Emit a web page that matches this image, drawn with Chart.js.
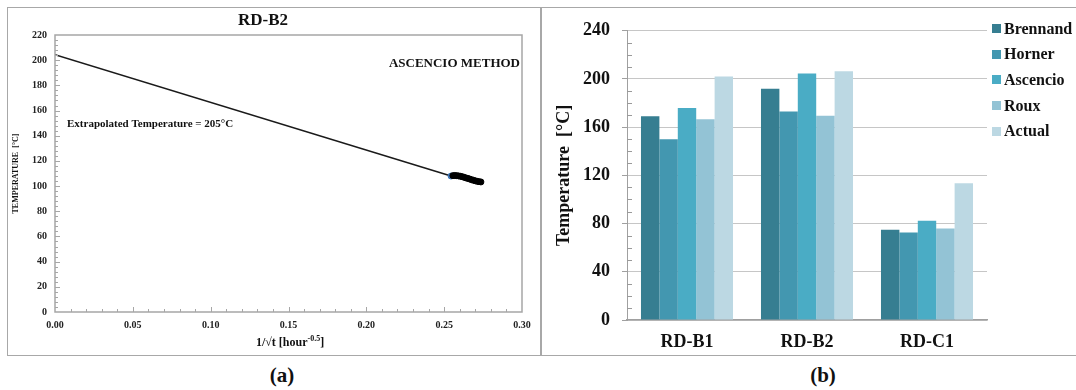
<!DOCTYPE html>
<html>
<head>
<meta charset="utf-8">
<script src="https://cdn.jsdelivr.net/npm/chart.js@4.4.1/dist/chart.umd.min.js"></script>
<style>
  html, body { margin: 0; padding: 0; background: #fff; }
  body { width: 1076px; height: 390px; position: relative; overflow: hidden; font-family: 'Liberation Serif', 'Times New Roman', serif; }
  .panel { position: absolute; box-sizing: border-box; border: 1.5px solid #a8a8a8; }
  #panelA { left: 7px; top: 7px; width: 535px; height: 349px; }
  #panelB { left: 540px; top: 7px; width: 545px; height: 349px; }
  #boxA { position: absolute; left: 8px; top: 8px; width: 531px; height: 347px; }
  #boxB { position: absolute; left: 541px; top: 8px; width: 535px; height: 347px; }
  .caption { position: absolute; top: 363px; width: 60px; text-align: center; font-weight: bold; font-size: 21px; color: #111; }
  #legendB { position: absolute; left: 992px; top: 16px; }
  .item { display: flex; align-items: center; height: 25.6px; font-weight: bold; font-size: 16px; color: #111; white-space: nowrap; }
  .swatch { width: 9px; height: 9px; margin-right: 3px; }
</style>
</head>
<body>
<div class="panel" id="panelA"></div>
<div class="panel" id="panelB"></div>
<div id="boxA"><canvas id="chartA"></canvas></div>
<div id="boxB"><canvas id="chartB"></canvas></div>
<div id="legendB"></div>
<div class="caption" style="left:252px">(a)</div>
<div class="caption" style="left:793px">(b)</div>
<script>
// (a) Ascencio plot for RD-B2
const fitX = [0, 0.2544];
const fitY = [204.3, 108.0];
const measX = [0.2544, 0.2556, 0.2568, 0.2580, 0.2592, 0.2604, 0.2616, 0.2628, 0.2640, 0.2652, 0.2664, 0.2676, 0.2688, 0.2700, 0.2712, 0.2724, 0.2736];
const measY = [108.0, 108.3, 108.4, 108.3, 108.1, 107.8, 107.5, 107.0, 106.5, 106.1, 105.6, 105.1, 104.6, 104.2, 103.8, 103.5, 103.3];

// (b) temperatures per well
const wells = ['RD-B1', 'RD-B2', 'RD-C1'];
const methods = ['Brennand', 'Horner', 'Ascencio', 'Roux', 'Actual'];
const brennand = [169, 192, 75];
const horner = [150, 173, 72.7];
const ascencio = [176, 204.6, 82.4];
const roux = [166.7, 169.4, 75.9];
const actual = [202, 206.5, 113.5];
const methodColors = ['#367e91', '#4397b0', '#4aacc5', '#93c3d5', '#bcd8e3'];

const serif = "'Liberation Serif', 'Times New Roman', serif";
const ink = '#111';
const frameGray = '#a6a6a6';

Chart.defaults.font.family = serif;
Chart.defaults.color = ink;

const panelA = {
  id: 'panelA',
  afterDraw(chart) {
    const { ctx, chartArea: a, scales: { x, y } } = chart;
    ctx.save();
    ctx.strokeStyle = frameGray;
    ctx.lineWidth = 1.5;
    ctx.strokeRect(a.left, a.top, a.right - a.left, a.bottom - a.top);

    ctx.lineWidth = 1;
    ctx.beginPath();
    for (let i = 1; i < 30; i++) {
      const px = Math.round(x.getPixelForValue(i / 100)) + 0.5;
      const len = i % 5 === 0 ? 5 : 3;
      ctx.moveTo(px, a.bottom);
      ctx.lineTo(px, a.bottom - len);
    }
    for (let v = 4; v < 220; v += 4) {
      const py = Math.round(y.getPixelForValue(v)) + 0.5;
      const len = v % 20 === 0 ? 5 : 3;
      ctx.moveTo(a.left, py);
      ctx.lineTo(a.left + len, py);
    }
    ctx.stroke();

    ctx.fillStyle = ink;
    ctx.textBaseline = 'middle';
    ctx.textAlign = 'center';
    ctx.font = `bold 17px ${serif}`;
    ctx.fillText('RD-B2', 255, 13);

    ctx.textAlign = 'right';
    ctx.font = `bold 13px ${serif}`;
    ctx.fillText('ASCENCIO METHOD', a.right - 2, 56);

    ctx.textAlign = 'left';
    ctx.font = `bold 11px ${serif}`;
    ctx.fillText('Extrapolated Temperature = 205\u00b0C', 59, 116);

    // x axis title with superscript
    const main = '1/\u221at [hour';
    const sup = '-0.5';
    ctx.font = `bold 12px ${serif}`;
    const w1 = ctx.measureText(main).width;
    ctx.font = `bold 8px ${serif}`;
    const w2 = ctx.measureText(sup).width;
    ctx.font = `bold 12px ${serif}`;
    const w3 = ctx.measureText(']').width;
    const sx = 282 - (w1 + w2 + w3) / 2;
    ctx.fillText(main, sx, 335);
    ctx.font = `bold 8px ${serif}`;
    ctx.fillText(sup, sx + w1, 331);
    ctx.font = `bold 12px ${serif}`;
    ctx.fillText(']', sx + w1 + w2, 335);

    ctx.translate(8, (a.top + a.bottom) / 2);
    ctx.rotate(-Math.PI / 2);
    ctx.textAlign = 'center';
    ctx.font = `bold 8px ${serif}`;
    ctx.fillText('TEMPERATURE  [\u00b0C]', 0, 0);
    ctx.restore();
  }
};

new Chart(document.getElementById('chartA'), {
  type: 'scatter',
  data: {
    datasets: [
      {
        type: 'line',
        data: fitX.map((v, i) => ({ x: v, y: fitY[i] })),
        borderColor: '#1a1a1a',
        borderWidth: 1.5,
        pointRadius: 0,
        order: 2
      },
      {
        data: measX.map((v, i) => ({ x: v, y: measY[i] })),
        backgroundColor: (c) => (c.dataIndex === 0 ? '#3f76b8' : '#000'),
        borderColor: (c) => (c.dataIndex === 0 ? '#3f76b8' : '#000'),
        pointRadius: 3,
        order: 1
      }
    ]
  },
  options: {
    responsive: true,
    maintainAspectRatio: false,
    animation: false,
    events: [],
    layout: { padding: { top: 27, right: 17, left: 0, bottom: 0 } },
    plugins: { legend: { display: false }, tooltip: { enabled: false } },
    scales: {
      x: {
        type: 'linear',
        min: 0,
        max: 0.3,
        afterFit(scale) { scale.height = 43; },
        grid: { display: false, drawTicks: false },
        border: { display: false },
        ticks: { stepSize: 0.05, padding: 7, maxRotation: 0, font: { size: 10, weight: 'bold' }, color: '#222', callback: (v) => v.toFixed(2) }
      },
      y: {
        min: 0,
        max: 220,
        afterFit(scale) { scale.width = 47; },
        grid: { display: false, drawTicks: false },
        border: { display: false },
        ticks: { stepSize: 20, padding: 8, font: { size: 10, weight: 'bold' }, color: '#222' }
      }
    }
  },
  plugins: [panelA]
});

const minorTicksB = {
  id: 'minorTicksB',
  afterDraw(chart) {
    const { ctx, chartArea: a, scales: { y } } = chart;
    ctx.save();
    ctx.strokeStyle = '#9a9a9a';
    ctx.lineWidth = 1;
    ctx.beginPath();
    for (let v = 10; v < 240; v += 10) {
      if (v % 40 === 0) continue;
      const py = Math.round(y.getPixelForValue(v)) + 0.5;
      ctx.moveTo(a.left, py);
      ctx.lineTo(a.left + 5, py);
    }
    ctx.stroke();
    ctx.restore();
  }
};

const seriesB = [brennand, horner, ascencio, roux, actual];

new Chart(document.getElementById('chartB'), {
  type: 'bar',
  data: {
    labels: wells,
    datasets: methods.map((name, i) => ({
      label: name,
      data: seriesB[i],
      backgroundColor: methodColors[i],
      borderWidth: 0,
      categoryPercentage: 0.767,
      barPercentage: 1.0
    }))
  },
  options: {
    responsive: true,
    maintainAspectRatio: false,
    animation: false,
    events: [],
    layout: { padding: { top: 17, right: 89, left: 0, bottom: 0 } },
    plugins: { legend: { display: false }, tooltip: { enabled: false } },
    scales: {
      x: {
        afterFit(scale) { scale.height = 35; },
        grid: { display: false },
        border: { color: '#a0a0a0', width: 1.5 },
        ticks: { padding: 4, font: { size: 18, weight: 'bold' }, color: ink }
      },
      y: {
        min: 0,
        max: 240,
        afterFit(scale) { scale.width = 86; },
        grid: { color: '#c6c6c6', tickLength: 5, tickColor: '#a0a0a0' },
        border: { color: '#a0a0a0', width: 1 },
        ticks: { stepSize: 40, padding: 12, font: { size: 18, weight: 'bold' }, color: ink },
        title: { display: true, text: 'Temperature  [\u00b0C]', font: { size: 18, weight: 'bold' }, color: ink, padding: { top: 13, bottom: 0 } }
      }
    }
  },
  plugins: [minorTicksB]
});

document.getElementById('legendB').innerHTML = methods
  .map((name, i) => `<div class="item"><span class="swatch" style="background:${methodColors[i]}"></span>${name}</div>`)
  .join('');
</script>
</body>
</html>
